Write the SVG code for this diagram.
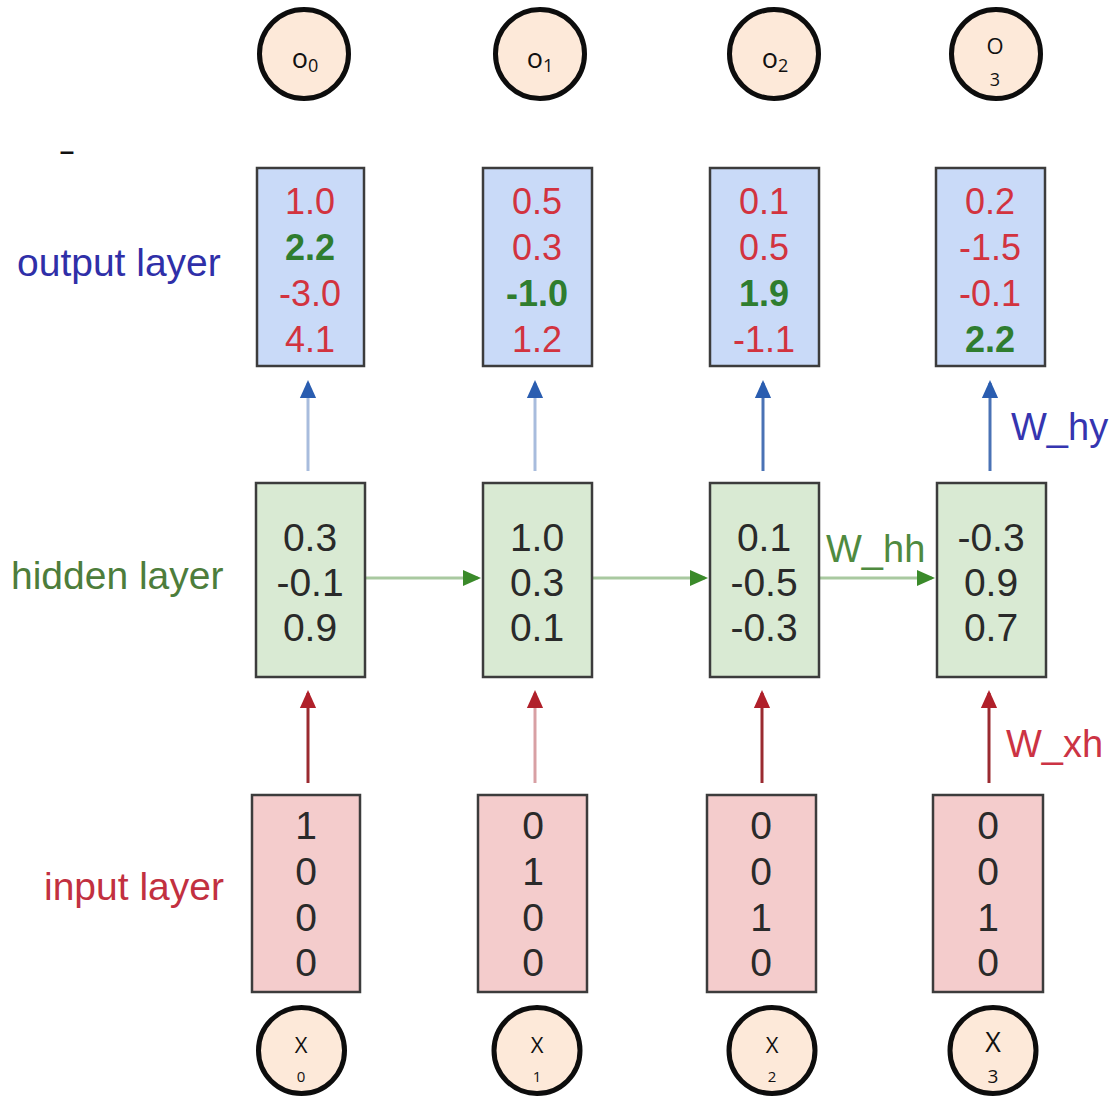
<svg xmlns="http://www.w3.org/2000/svg" width="1117" height="1098" viewBox="0 0 1117 1098">
<style>
.circ{fill:#fde9d9;stroke:#0d0d0d;stroke-width:5}
.ctext{font-family:"Open Sans","Noto Sans",sans-serif;fill:#111;text-anchor:middle}
.box{stroke:#3c3c3c;stroke-width:2.5}
.ob{fill:#c9daf8}
.hb{fill:#d9ead3}
.ib{fill:#f4cccc}
.num{font-family:"Liberation Sans",Arial,sans-serif;text-anchor:middle}
.r{fill:#d2333f;font-size:36px}
.g{fill:#2f7d2f;font-size:36px;font-weight:bold}
.k{fill:#2a2a2a;font-size:39px}
.lbl{font-family:"Liberation Sans",Arial,sans-serif;font-size:39px}
.w{font-family:"Liberation Sans",Arial,sans-serif;font-size:38px}
</style>
<defs>
<marker id="ab" markerWidth="6" markerHeight="6" refX="5" refY="3" orient="auto" markerUnits="strokeWidth"><path d="M0,0.3 L6,3 L0,5.7 z" fill="#2a5db0"/></marker>
<marker id="ar" markerWidth="6" markerHeight="6" refX="5" refY="3" orient="auto" markerUnits="strokeWidth"><path d="M0,0.3 L6,3 L0,5.7 z" fill="#b0202a"/></marker>
<marker id="ag" markerWidth="6" markerHeight="6" refX="5" refY="3" orient="auto" markerUnits="strokeWidth"><path d="M0,0.3 L6,3 L0,5.7 z" fill="#3a8a2a"/></marker>
</defs>
<rect width="1117" height="1098" fill="#ffffff"/>

<text x="67" y="160" font-family="Liberation Sans,Arial,sans-serif" font-size="26" font-weight="bold" fill="#111" text-anchor="middle">–</text>

<!-- labels -->
<text class="lbl" x="17" y="276" fill="#2f2fa8">output layer</text>
<text class="lbl" x="11" y="589" fill="#4d7d3b">hidden layer</text>
<text class="lbl" x="44" y="900" fill="#c23040">input layer</text>

<!-- connectors -->
<g id="connectors">
<g stroke-width="3" fill="none">
<line x1="308" y1="471" x2="308" y2="383" stroke="#a8bcdd" marker-end="url(#ab)"/>
<line x1="535" y1="471" x2="535" y2="383" stroke="#a8bcdd" marker-end="url(#ab)"/>
<line x1="763" y1="471" x2="763" y2="383" stroke="#4a72b5" marker-end="url(#ab)"/>
<line x1="990" y1="471" x2="990" y2="383" stroke="#4a72b5" marker-end="url(#ab)"/>
<line x1="308" y1="783" x2="308" y2="693" stroke="#9a2a30" marker-end="url(#ar)"/>
<line x1="535" y1="783" x2="535" y2="693" stroke="#d8a0a4" marker-end="url(#ar)"/>
<line x1="762" y1="783" x2="762" y2="693" stroke="#9a2a30" marker-end="url(#ar)"/>
<line x1="989" y1="783" x2="989" y2="693" stroke="#9a2a30" marker-end="url(#ar)"/>
<line x1="366" y1="578" x2="478" y2="578" stroke="#a9c9a0" marker-end="url(#ag)"/>
<line x1="593" y1="578" x2="705" y2="578" stroke="#a9c9a0" marker-end="url(#ag)"/>
<line x1="820" y1="578" x2="932" y2="578" stroke="#a9c9a0" marker-end="url(#ag)"/>
</g>
<text class="w" x="1011" y="440" fill="#3535b0">W_hy</text>
<text class="w" x="826" y="562" fill="#4f8a3f">W_hh</text>
<text class="w" x="1006" y="757" fill="#cc3344">W_xh</text>
</g>

<!-- top circles -->
<g id="o0"><circle class="circ" cx="304" cy="54" r="44.5"/><text class="ctext" x="305" y="68" font-size="27">o<tspan font-size="18" dy="4">0</tspan></text></g>
<g id="o1"><circle class="circ" cx="540" cy="54" r="44.5"/><text class="ctext" x="540" y="68" font-size="27">o<tspan font-size="18" dy="4">1</tspan></text></g>
<g id="o2"><circle class="circ" cx="774" cy="54" r="44.5"/><text class="ctext" x="775" y="68" font-size="27">o<tspan font-size="18" dy="4">2</tspan></text></g>
<g id="o3"><circle class="circ" cx="996" cy="54" r="44.5"/><text class="ctext" x="995" y="54" font-size="22">O</text><text class="ctext" x="995" y="86" font-size="18">3</text></g>

<!-- output boxes -->
<g id="out0"><rect class="box ob" x="257" y="168" width="107" height="198"/>
<text class="num r" x="310" y="214">1.0</text><text class="num g" x="310" y="260">2.2</text><text class="num r" x="310" y="306">-3.0</text><text class="num r" x="310" y="352">4.1</text></g>
<g id="out1"><rect class="box ob" x="483" y="168" width="109" height="198"/>
<text class="num r" x="537" y="214">0.5</text><text class="num r" x="537" y="260">0.3</text><text class="num g" x="537" y="306">-1.0</text><text class="num r" x="537" y="352">1.2</text></g>
<g id="out2"><rect class="box ob" x="710" y="168" width="109" height="198"/>
<text class="num r" x="764" y="214">0.1</text><text class="num r" x="764" y="260">0.5</text><text class="num g" x="764" y="306">1.9</text><text class="num r" x="764" y="352">-1.1</text></g>
<g id="out3"><rect class="box ob" x="936" y="168" width="109" height="198"/>
<text class="num r" x="990" y="214">0.2</text><text class="num r" x="990" y="260">-1.5</text><text class="num r" x="990" y="306">-0.1</text><text class="num g" x="990" y="352">2.2</text></g>

<!-- hidden boxes -->
<g id="hid0"><rect class="box hb" x="256" y="483" width="109" height="194"/>
<text class="num k" x="310" y="551">0.3</text><text class="num k" x="310" y="596">-0.1</text><text class="num k" x="310" y="641">0.9</text></g>
<g id="hid1"><rect class="box hb" x="483" y="483" width="109" height="194"/>
<text class="num k" x="537" y="551">1.0</text><text class="num k" x="537" y="596">0.3</text><text class="num k" x="537" y="641">0.1</text></g>
<g id="hid2"><rect class="box hb" x="710" y="483" width="109" height="194"/>
<text class="num k" x="764" y="551">0.1</text><text class="num k" x="764" y="596">-0.5</text><text class="num k" x="764" y="641">-0.3</text></g>
<g id="hid3"><rect class="box hb" x="937" y="483" width="109" height="194"/>
<text class="num k" x="991" y="551">-0.3</text><text class="num k" x="991" y="596">0.9</text><text class="num k" x="991" y="641">0.7</text></g>

<!-- input boxes -->
<g id="in0"><rect class="box ib" x="252" y="795" width="108" height="197"/>
<text class="num k" x="306" y="839">1</text><text class="num k" x="306" y="885">0</text><text class="num k" x="306" y="931">0</text><text class="num k" x="306" y="976">0</text></g>
<g id="in1"><rect class="box ib" x="478" y="795" width="109" height="197"/>
<text class="num k" x="533" y="839">0</text><text class="num k" x="533" y="885">1</text><text class="num k" x="533" y="931">0</text><text class="num k" x="533" y="976">0</text></g>
<g id="in2"><rect class="box ib" x="707" y="795" width="109" height="197"/>
<text class="num k" x="761" y="839">0</text><text class="num k" x="761" y="885">0</text><text class="num k" x="761" y="931">1</text><text class="num k" x="761" y="976">0</text></g>
<g id="in3"><rect class="box ib" x="933" y="795" width="110" height="197"/>
<text class="num k" x="988" y="839">0</text><text class="num k" x="988" y="885">0</text><text class="num k" x="988" y="931">1</text><text class="num k" x="988" y="976">0</text></g>

<!-- bottom circles -->
<g id="x0"><circle class="circ" cx="301.5" cy="1050.5" r="43"/><text class="ctext" x="301" y="1053" font-size="22">X</text><text class="ctext" x="301" y="1082" font-size="15">0</text></g>
<g id="x1"><circle class="circ" cx="537" cy="1050.5" r="43"/><text class="ctext" x="537" y="1053" font-size="22">X</text><text class="ctext" x="537" y="1082" font-size="15">1</text></g>
<g id="x2"><circle class="circ" cx="772" cy="1050.5" r="43"/><text class="ctext" x="772" y="1053" font-size="22">X</text><text class="ctext" x="772" y="1082" font-size="15">2</text></g>
<g id="x3"><circle class="circ" cx="993" cy="1050.5" r="43"/><text class="ctext" x="993" y="1052" font-size="27">X</text><text class="ctext" x="993" y="1083" font-size="19">3</text></g>
</svg>
